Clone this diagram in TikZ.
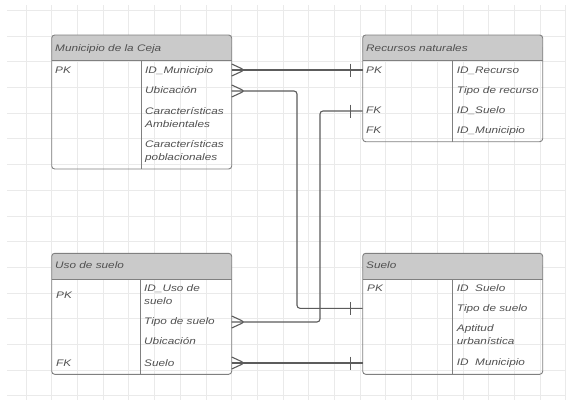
\documentclass[tikz,border=0pt]{standalone}
\usepackage{fontspec}
\newfontfamily\erfont[FakeStretch=1.24]{Liberation Sans}
\usetikzlibrary{calc}

\definecolor{rejilla}{RGB}{234,234,234}
\definecolor{borde}{RGB}{128,128,128}
\definecolor{cabeza}{RGB}{202,202,202}
\definecolor{letra}{RGB}{80,80,80}
\definecolor{linea}{RGB}{92,92,92}

\tikzset{
  marco/.style={draw=borde, line width=0.9pt, rounded corners=3pt},
  division/.style={draw=borde, line width=0.9pt},
  campo/.style={anchor=west, inner sep=0pt, text=letra,
    font=\erfont\itshape\fontsize{9.5}{13}\selectfont, text height=8pt, text depth=1.5pt},
  campodoble/.style={anchor=west, inner sep=0pt, text=letra, align=left,
    font=\erfont\itshape\fontsize{9.5}{13}\selectfont},
  relacion/.style={draw=linea, line width=1.1pt, rounded corners=3pt},
}

% tabla: nombre, izquierda, arriba, derecha, abajo, columna
\newcommand{\tabla}[6]{%
  \fill[cabeza, rounded corners=3pt] (#2,#3) rectangle (#4,#3+20);
  \fill[cabeza] (#2,#3+12) rectangle (#4,#3+25.7);
  \draw[division] (#2,#3+25.7) -- (#4,#3+25.7);
  \draw[division] (#6,#3+25.7) -- (#6,#5);
  \draw[marco] (#2,#3) rectangle (#4,#5);
  \coordinate (#1-nw) at (#2,#3);
  \coordinate (#1-se) at (#4,#5);
}
% extremo muchos y extremo uno
\newcommand{\muchos}[1]{\draw[relacion] ($(#1)+(0,-6)$) -- ($(#1)+(13,0)$) -- ($(#1)+(0,6)$);}
\newcommand{\uno}[1]{\draw[relacion] ($(#1)+(-12.5,-6.5)$) -- ($(#1)+(-12.5,6.5)$);}

\begin{document}
\begin{tikzpicture}[x=1pt, y=-1pt]
  \useasboundingbox (0,0) rectangle (566,400);
  \fill[white] (0,0) rectangle (566,400);
  % rejilla de fondo
  \foreach \i in {1,...,22}
    \draw[rejilla, line width=0.8pt] ({0.3+25.7*\i},5) -- ({0.3+25.7*\i},400);
  \foreach \j in {0,...,15}
    \draw[rejilla, line width=0.8pt] (7,{10.3+25.7*\j}) -- (566,{10.3+25.7*\j});

  % Municipio de la Ceja
  \tabla{mun}{51.7}{35}{231.7}{169}{141}
  \node[campo] (mun-titulo) at (55,47.8) {Municipio de la Ceja};
  \node[campo] (mun-pk) at (55,70) {PK};
  \node[campo] (mun-id) at (145,70) {ID\_Municipio};
  \node[campo] (mun-ubi) at (145,90) {Ubicación};
  \node[campodoble] (mun-amb) at (145,117.3) {Características\\Ambientales};
  \node[campodoble] (mun-pob) at (145,151) {Características\\poblacionales};

  % Recursos naturales
  \tabla{rec}{362.7}{35}{542.7}{141.7}{452.7}
  \node[campo] (rec-titulo) at (366,47.8) {Recursos naturales};
  \node[campo] (rec-pk) at (366,70) {PK};
  \node[campo] (rec-id) at (456.7,70) {ID\_Recurso};
  \node[campo] (rec-tipo) at (456.7,90) {Tipo de recurso};
  \node[campo] (rec-fk1) at (366,110) {FK};
  \node[campo] (rec-suelo) at (456.7,110) {ID\_Suelo};
  \node[campo] (rec-fk2) at (366,130) {FK};
  \node[campo] (rec-mun) at (456.7,130) {ID\_Municipio};

  % Uso de suelo
  \tabla{uso}{51.7}{253.3}{231.7}{374.3}{140}
  \node[campo] (uso-titulo) at (55,265.5) {Uso de suelo};
  \node[campo] (uso-pk) at (56,295) {PK};
  \node[campodoble] (uso-id) at (144,295) {ID\_Uso de\\suelo};
  \node[campo] (uso-tipo) at (144,321) {Tipo de suelo};
  \node[campo] (uso-ubi) at (144,341.7) {Ubicación};
  \node[campo] (uso-fk) at (56,363) {FK};
  \node[campo] (uso-suelo) at (144,363) {Suelo};

  % Suelo
  \tabla{sue}{362.7}{253.3}{542.7}{374.3}{452.7}
  \node[campo] (sue-titulo) at (366,265.5) {Suelo};
  \node[campo] (sue-pk) at (367,288.3) {PK};
  \node[campo] (sue-id) at (456.7,288.3) {ID~~Suelo};
  \node[campo] (sue-tipo) at (456.7,308.3) {Tipo de suelo};
  \node[campodoble] (sue-apt) at (456.7,335) {Aptitud\\urbanística};
  \node[campo] (sue-mun) at (456.7,362.7) {ID~~Municipio};

  % puntos de union
  \coordinate (p-mun-id) at (231.7,70);
  \coordinate (p-mun-ubi) at (231.7,91);
  \coordinate (p-uso-tipo) at (231.7,322);
  \coordinate (p-uso-suelo) at (231.7,363);
  \coordinate (p-rec-pk) at (362.7,70);
  \coordinate (p-rec-fk) at (362.7,111);
  \coordinate (p-sue-pk) at (362.7,308.3);
  \coordinate (p-sue-mun) at (362.7,363);

  % relaciones
  \draw[relacion] (p-mun-id) -- (p-rec-pk);
  \draw[relacion] (p-mun-ubi) -- (297,91) -- (297,308.3) -- (p-sue-pk);
  \draw[relacion] (p-uso-tipo) -- (320,322) -- (320,111) -- (p-rec-fk);
  \draw[relacion] (p-uso-suelo) -- (p-sue-mun);
  \muchos{p-mun-id}
  \muchos{p-mun-ubi}
  \muchos{p-uso-tipo}
  \muchos{p-uso-suelo}
  \uno{p-rec-pk}
  \uno{p-rec-fk}
  \uno{p-sue-pk}
  \uno{p-sue-mun}
\end{tikzpicture}
\end{document}
